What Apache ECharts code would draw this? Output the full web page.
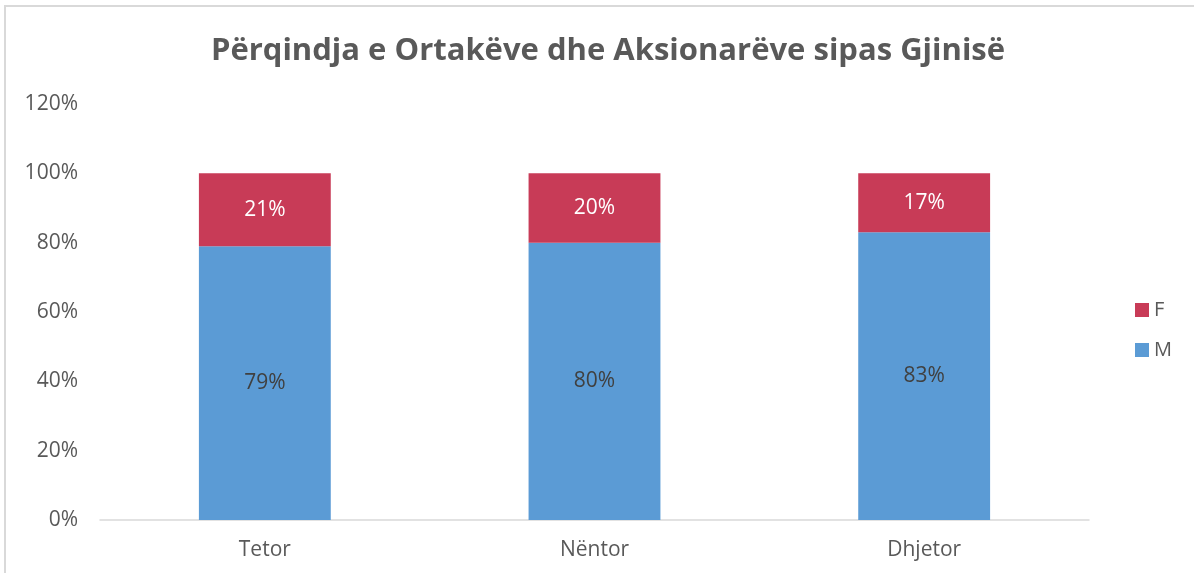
<!DOCTYPE html>
<html>
<head>
    <meta charset="utf-8">
    <title>Përqindja e Ortakëve dhe Aksionarëve sipas Gjinisë</title>
    <style>
        html, body { margin: 0; padding: 0; background: #fff; }
        #frame {
            position: absolute; left: 4px; top: 5px; width: 1200px; height: 580px;
            border-left: 2px solid #d9d9d9; border-top: 2px solid #d9d9d9;
        }
        #main { position: absolute; left: 0; top: 0; width: 1194px; height: 573px; }
    </style>
</head>
<body>
<div id="frame"></div>
<div id="main"></div>

<script src="https://cdn.jsdelivr.net/npm/echarts@6/dist/echarts.min.js"></script>
<script>
    var months = ['Tetor', 'Nëntor', 'Dhjetor'];
    var valuesM = [79, 80, 83];
    var valuesF = [21, 20, 17];
    var yTicks = [0, 20, 40, 60, 80, 100, 120];

    var font = '"Open Sans", "Noto Sans", sans-serif';
    var myChart = echarts.init(document.getElementById('main'));

    var option = {
        animation: false,
        title: {
            text: 'Përqindja e Ortakëve dhe Aksionarëve sipas Gjinisë',
            left: 603, top: 31, textAlign: 'center',
            textStyle: { fontFamily: font, fontSize: 31, fontWeight: 'bold', color: '#595959' }
        },
        legend: {
            orient: 'vertical', left: 1130, top: 295, itemGap: 20,
            itemWidth: 14, itemHeight: 14, icon: 'rect',
            data: ['F', 'M'],
            textStyle: { fontFamily: font, fontSize: 20, color: '#595959' }
        },
        grid: { left: 100, right: 105, top: 104, bottom: 53 },
        xAxis: {
            type: 'category',
            data: months,
            axisLine: { lineStyle: { color: '#d9d9d9', width: 1.5 } },
            axisTick: { show: false },
            axisLabel: { fontFamily: font, fontSize: 21, color: '#595959', margin: 20 }
        },
        yAxis: {
            type: 'value',
            min: yTicks[0], max: yTicks[yTicks.length - 1], interval: 20,
            axisLine: { show: false },
            axisTick: { show: false },
            splitLine: { show: false },
            axisLabel: {
                fontFamily: font, fontSize: 21, color: '#595959', margin: 22,
                formatter: function (v) { return v + '%'; }
            }
        },
        series: [
            {
                name: 'M', type: 'bar', stack: 'total', barWidth: '40%',
                data: valuesM,
                itemStyle: { color: '#5b9bd5' },
                label: {
                    show: true, position: 'inside', fontFamily: font, fontSize: 21, color: '#404040',
                    formatter: function (p) { return p.value + '%'; }
                }
            },
            {
                name: 'F', type: 'bar', stack: 'total', barWidth: '40%',
                data: valuesF,
                itemStyle: { color: '#c83b57' },
                label: {
                    show: true, position: 'inside', fontFamily: font, fontSize: 21, color: '#ffffff',
                    formatter: function (p) { return p.value + '%'; }
                }
            }
        ]
    };

    myChart.setOption(option);
</script>
</body>
</html>
